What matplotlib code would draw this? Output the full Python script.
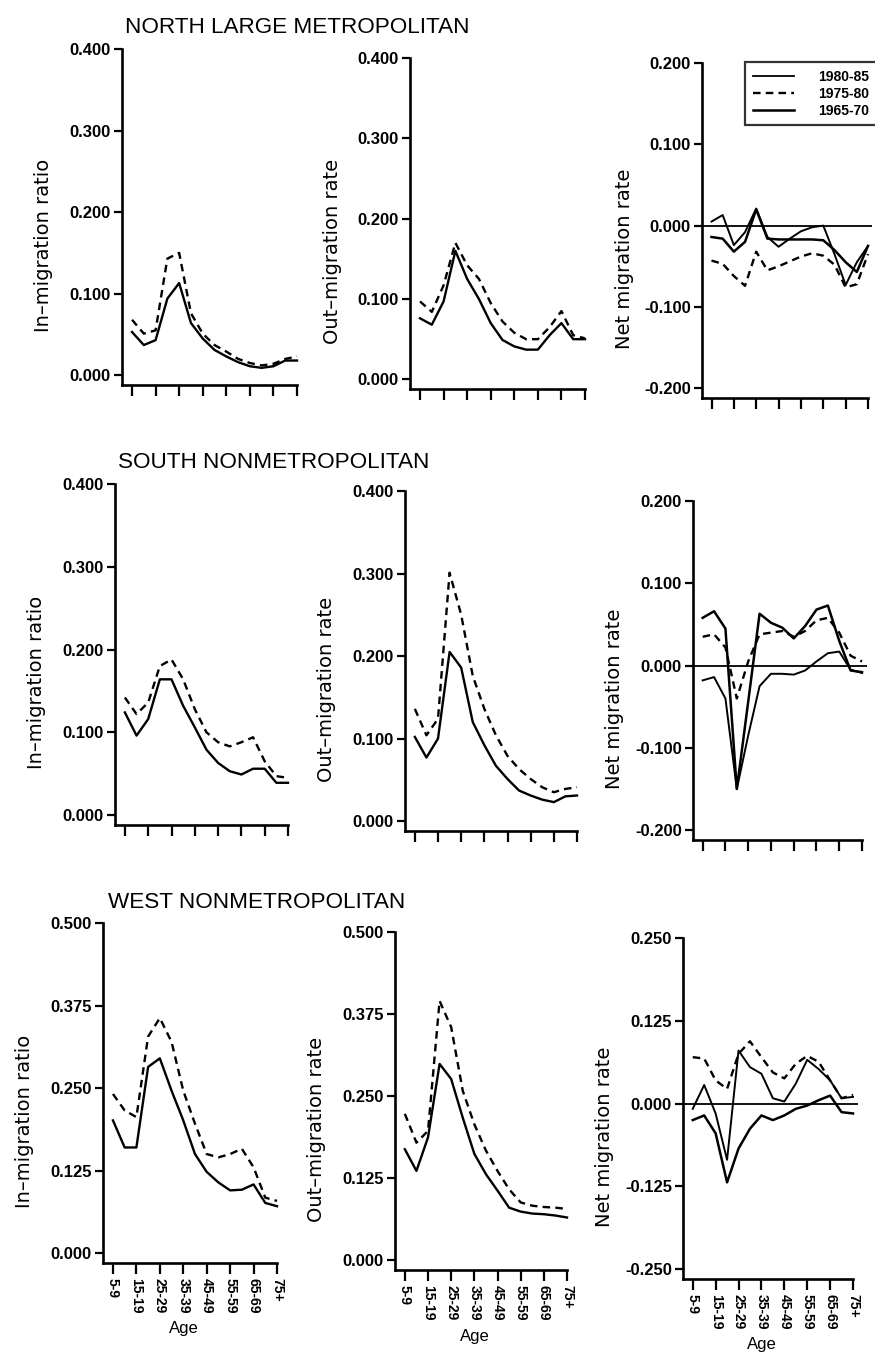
import matplotlib
matplotlib.use("Agg")
import matplotlib.pyplot as plt
from matplotlib.lines import Line2D

W, H = 875, 1354

AGES = ["5-9", "10-14", "15-19", "20-24", "25-29", "30-34", "35-39", "40-44",
        "45-49", "50-54", "55-59", "60-64", "65-69", "70-74", "75+"]
TICK_LABELS = AGES[::2]
PERIODS = ["1980-85", "1975-80", "1965-70"]

# north large metropolitan
north_in_solid = [0.053, 0.037, 0.043, 0.094, 0.113, 0.064, 0.045, 0.031, 0.023, 0.016, 0.011, 0.009, 0.011, 0.018, 0.018]
north_in_dashed = [0.068, 0.051, 0.055, 0.143, 0.150, 0.076, 0.051, 0.037, 0.029, 0.020, 0.015, 0.012, 0.014, 0.020, 0.023]
north_out_solid = [0.076, 0.068, 0.097, 0.160, 0.125, 0.100, 0.070, 0.049, 0.041, 0.037, 0.037, 0.055, 0.070, 0.050, 0.050]
north_out_dashed = [0.097, 0.084, 0.117, 0.170, 0.142, 0.125, 0.095, 0.072, 0.058, 0.050, 0.050, 0.065, 0.085, 0.055, 0.051]
north_net_8085 = [0.005, 0.013, -0.024, -0.008, 0.021, -0.014, -0.026, -0.016, -0.007, -0.002, 0.000, -0.035, -0.073, -0.045, -0.025]
north_net_7580 = [-0.043, -0.047, -0.062, -0.074, -0.032, -0.055, -0.050, -0.044, -0.038, -0.034, -0.037, -0.048, -0.076, -0.072, -0.035]
north_net_6570 = [-0.014, -0.016, -0.032, -0.020, 0.020, -0.016, -0.017, -0.017, -0.017, -0.017, -0.018, -0.030, -0.045, -0.057, -0.025]

# south nonmetropolitan
south_in_solid = [0.124, 0.096, 0.116, 0.164, 0.164, 0.132, 0.106, 0.079, 0.063, 0.053, 0.049, 0.056, 0.056, 0.039, 0.039]
south_in_dashed = [0.142, 0.122, 0.136, 0.180, 0.188, 0.164, 0.128, 0.100, 0.088, 0.083, 0.088, 0.094, 0.065, 0.047, 0.045]
south_out_solid = [0.102, 0.077, 0.100, 0.205, 0.186, 0.120, 0.092, 0.067, 0.051, 0.037, 0.031, 0.026, 0.023, 0.030, 0.031]
south_out_dashed = [0.136, 0.104, 0.124, 0.301, 0.250, 0.176, 0.136, 0.104, 0.079, 0.063, 0.051, 0.041, 0.035, 0.039, 0.041]
south_net_8085 = [-0.018, -0.014, -0.040, -0.150, -0.085, -0.025, -0.010, -0.010, -0.011, -0.006, 0.005, 0.015, 0.017, -0.005, -0.009]
south_net_7580 = [0.035, 0.038, 0.022, -0.040, 0.005, 0.038, 0.040, 0.042, 0.035, 0.042, 0.055, 0.058, 0.040, 0.012, 0.005]
south_net_6570 = [0.058, 0.066, 0.045, -0.150, -0.044, 0.063, 0.052, 0.046, 0.033, 0.048, 0.068, 0.073, 0.030, -0.006, -0.008]

# west nonmetropolitan
west_in_solid = [0.201, 0.160, 0.160, 0.282, 0.295, 0.246, 0.201, 0.150, 0.123, 0.107, 0.095, 0.096, 0.104, 0.076, 0.071]
west_in_dashed = [0.241, 0.216, 0.206, 0.328, 0.356, 0.320, 0.246, 0.196, 0.150, 0.145, 0.150, 0.158, 0.130, 0.084, 0.079]
west_out_solid = [0.169, 0.136, 0.187, 0.299, 0.276, 0.217, 0.162, 0.131, 0.106, 0.080, 0.074, 0.071, 0.070, 0.068, 0.065]
west_out_dashed = [0.223, 0.179, 0.197, 0.395, 0.355, 0.258, 0.207, 0.167, 0.136, 0.108, 0.088, 0.083, 0.081, 0.080, 0.078]
west_net_8085 = [-0.008, 0.028, -0.015, -0.085, 0.080, 0.055, 0.045, 0.008, 0.003, 0.030, 0.066, 0.052, 0.035, 0.008, 0.010]
west_net_7580 = [0.070, 0.068, 0.035, 0.022, 0.075, 0.094, 0.070, 0.047, 0.038, 0.060, 0.072, 0.063, 0.035, 0.008, 0.013]
west_net_6570 = [-0.025, -0.018, -0.045, -0.119, -0.068, -0.038, -0.018, -0.025, -0.018, -0.008, -0.003, 0.005, 0.012, -0.013, -0.015]

ROW_TITLES = ["NORTH LARGE METROPOLITAN", "SOUTH NONMETROPOLITAN", "WEST NONMETROPOLITAN"]
YLABELS = ["In\u2013migration ratio", "Out\u2013migration rate", "Net migration rate"]
YTICKS_RATE = [[0, 0.1, 0.2, 0.3, 0.4], [0, 0.1, 0.2, 0.3, 0.4], [0, 0.125, 0.25, 0.375, 0.5]]
YTICKS_NET = [[-0.2, -0.1, 0, 0.1, 0.2], [-0.2, -0.1, 0, 0.1, 0.2], [-0.25, -0.125, 0, 0.125, 0.25]]

# layout in pixels: spine x, last tick x, top tick y, bottom spine y
BOXES = [
    [(122, 297, 49, 385), (410, 585, 58, 389), (702, 868, 63, 398)],
    [(115, 288, 484, 825), (405, 577, 491, 831), (693, 862, 501, 840)],
    [(103, 277, 923, 1263), (395, 567, 932, 1270), (683, 853, 938, 1279)],
]
TITLE_POS = [(125, 33), (118, 468), (108, 908)]

plt.rcParams["font.family"] = ["Liberation Sans", "DejaVu Sans"]
plt.rcParams["font.weight"] = "bold"

XL = 0.85   # first tick sits a little right of the y spine
XR = 14.4

fig = plt.figure(figsize=(W / 100, H / 100), dpi=100)


def make_axes(box, yticks):
    x0, xlast, ytop, ybot = box
    per = (xlast - x0) / (14 + XL)
    wpx = per * (XR + XL)
    hpx = ybot - ytop
    ax = fig.add_axes([x0 / W, 1 - ybot / H, wpx / W, hpx / H])
    lo, hi = yticks[0], yticks[-1]
    ax.set_ylim(lo - 0.03 * (hi - lo), hi)
    ax.set_xlim(-XL, XR)
    for s in ["top", "right"]:
        ax.spines[s].set_visible(False)
    for s in ["left", "bottom"]:
        ax.spines[s].set_linewidth(1.9)
    ax.spines["bottom"].set_bounds(-XL, 14)
    ax.set_yticks(yticks)
    ax.set_yticklabels([f"{v:.3f}" for v in yticks])
    ax.set_xticks(range(0, 15, 2))
    ax.tick_params(axis="y", length=6, width=1.6, pad=2, labelsize=12)
    ax.tick_params(axis="x", length=8, width=1.6, pad=3, labelsize=10)
    ax.patch.set_alpha(0)
    return ax, wpx, hpx


rows = [
    (north_in_solid, north_in_dashed, north_out_solid, north_out_dashed,
     north_net_8085, north_net_7580, north_net_6570),
    (south_in_solid, south_in_dashed, south_out_solid, south_out_dashed,
     south_net_8085, south_net_7580, south_net_6570),
    (west_in_solid, west_in_dashed, west_out_solid, west_out_dashed,
     west_net_8085, west_net_7580, west_net_6570),
]

x = list(range(len(AGES)))
dash = (0, (3.2, 2.2))

for r, row in enumerate(rows):
    in_s, in_d, out_s, out_d, n80, n75, n65 = row
    for c in range(3):
        yt = YTICKS_NET[r] if c == 2 else YTICKS_RATE[r]
        ax, wpx, hpx = make_axes(BOXES[r][c], yt)
        if c == 0:
            ax.plot(x, in_s, color="black", lw=1.7)
            ax.plot(x, in_d, color="black", lw=1.7, linestyle=dash)
        elif c == 1:
            ax.plot(x, out_s, color="black", lw=1.7)
            ax.plot(x, out_d, color="black", lw=1.7, linestyle=dash)
        else:
            ax.axhline(0, color="black", lw=1.3)
            ax.plot(x, n80, color="black", lw=1.4)
            ax.plot(x, n75, color="black", lw=1.7, linestyle=dash)
            ax.plot(x, n65, color="black", lw=1.8)
        ax.set_ylabel(YLABELS[c], fontsize=14, fontweight="normal",
                      family=["DejaVu Sans"])
        ax.yaxis.label.set_va("center")
        ax.yaxis.set_label_coords(-78 / wpx, 0.5 - 28 / hpx)
        if r == 2:
            ax.set_xticklabels(TICK_LABELS, rotation=-90, va="top", ha="center")
            ax.set_xlabel("Age", fontsize=12, fontweight="normal")
            ax.xaxis.label.set_va("center")
            ax.xaxis.set_label_coords((wpx / 2 - 8) / wpx, -66 / hpx)
        else:
            ax.set_xticklabels([])
        if r == 0 and c == 2:
            handles = [Line2D([], [], color="black", lw=1.3),
                       Line2D([], [], color="black", lw=1.7, linestyle=dash),
                       Line2D([], [], color="black", lw=1.8)]
            leg = fig.legend(handles, PERIODS, loc="upper left",
                             bbox_to_anchor=(745 / W, 1 - 62 / H),
                             prop={"size": 10, "weight": "bold"},
                             frameon=True, fancybox=False,
                             handlelength=3.0, handletextpad=1.7,
                             borderpad=0.55, labelspacing=0.22,
                             borderaxespad=0)
            leg.get_frame().set_edgecolor("black")
            leg.get_frame().set_linewidth(1.6)

    tx, ty = TITLE_POS[r]
    fig.text(tx / W, 1 - ty / H, ROW_TITLES[r], fontsize=16.2,
             weight="normal", va="baseline", ha="left")

fig.savefig("out.png", dpi=100, facecolor="white")
